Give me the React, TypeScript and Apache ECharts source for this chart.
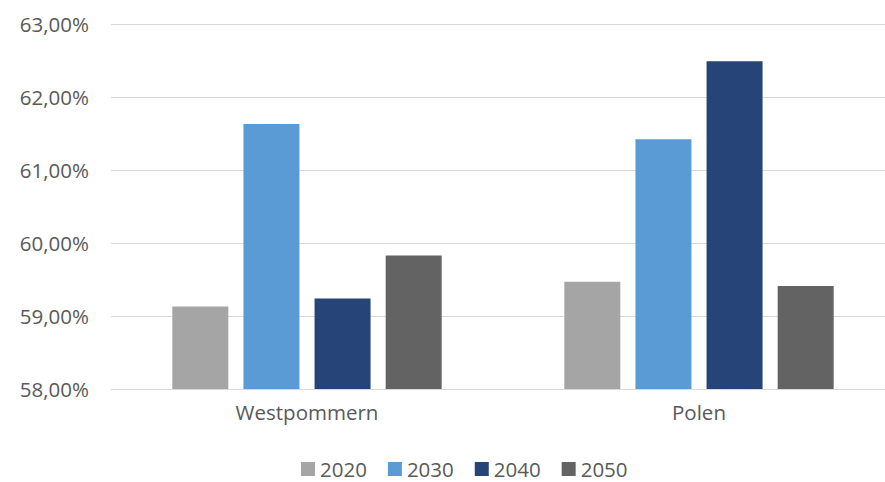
import React, { useEffect, useRef } from "react";
import * as echarts from "echarts";

const categories = ["Westpommern", "Polen"];
const seriesNames = ["2020", "2030", "2040", "2050"];
const values2020 = [59.13, 59.47];
const values2030 = [61.63, 61.42];
const values2040 = [59.24, 62.49];
const values2050 = [59.83, 59.41];
const colors = ["#A5A5A5", "#5B9BD5", "#264478", "#636363"];

const FONT = "'Open Sans', 'Noto Sans', sans-serif";

export default function App() {
  const ref = useRef<HTMLDivElement>(null);
  useEffect(() => {
    if (!ref.current) return;
    document.body.style.overflow = "hidden";
    const chart = echarts.init(ref.current, undefined, { renderer: "svg" });
    const data = [values2020, values2030, values2040, values2050];
    chart.setOption({
      animation: false,
      textStyle: { fontFamily: FONT },
      grid: { left: 111, top: 24, width: 784, height: 365, containLabel: false },
      legend: {
        top: 456,
        left: 301,
        padding: 0,
        itemWidth: 14,
        itemHeight: 14,
        itemGap: 21,
        icon: "rect",
        textStyle: { fontSize: 20.5, color: "#595959", fontFamily: FONT, lineHeight: 26 },
        data: seriesNames,
      },
      xAxis: {
        type: "category",
        data: categories,
        axisLine: { show: true, lineStyle: { color: "#D9D9D9", width: 1 } },
        axisTick: { show: false },
        axisLabel: { fontSize: 20.5, color: "#595959", margin: 12, fontFamily: FONT },
      },
      yAxis: {
        type: "value",
        min: 58,
        max: 63,
        interval: 1,
        axisLine: { show: false },
        axisTick: { show: false },
        splitLine: { lineStyle: { color: "#D9D9D9", width: 1 } },
        axisLabel: {
          fontSize: 20.5,
          color: "#595959",
          margin: 22,
          fontFamily: FONT,
          formatter: (v: number) => v.toFixed(2).replace(".", ",") + "%",
        },
      },
      series: seriesNames.map((name, i) => ({
        name,
        type: "bar",
        data: data[i],
        itemStyle: { color: colors[i] },
        barWidth: 56,
        barGap: "27%",
        barCategoryGap: "31%",
      })),
    });
    return () => chart.dispose();
  }, []);
  return (
    <div
      ref={ref}
      style={{ position: "fixed", left: 0, top: 0, width: 895, height: 482, background: "#fff" }}
    />
  );
}
